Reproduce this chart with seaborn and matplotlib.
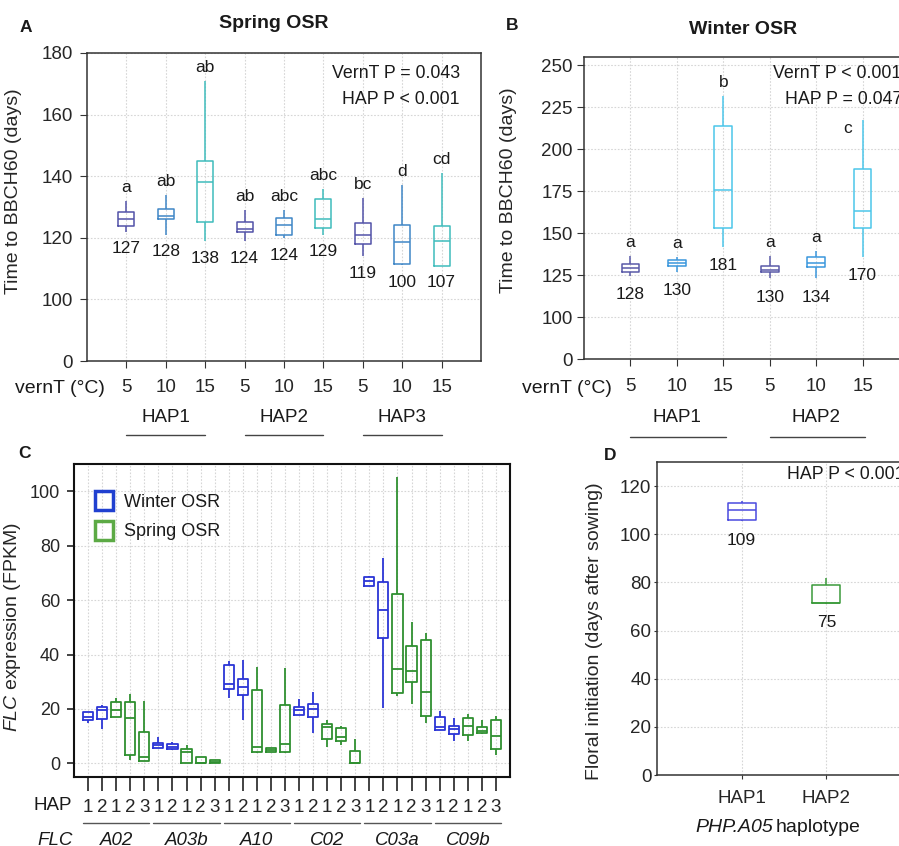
import numpy as np
import pandas as pd
import matplotlib
matplotlib.use("Agg")
import matplotlib.pyplot as plt
import matplotlib.transforms as mtransforms
from matplotlib.lines import Line2D
from matplotlib.patches import Patch
import seaborn as sns

# ---------------- data ----------------
# Panel A: Spring OSR, time to BBCH60 (five-number summaries per box)
a_groups = ["HAP1", "HAP2", "HAP3"]
a_vernT = ["5", "10", "15"]
a_low = [122.0, 121.0, 119.0, 119.0, 120.0, 121.0, 114.0, 111.1, 111.0]
a_q1 = [123.7, 126.0, 125.0, 122.0, 121.0, 123.1, 118.0, 111.5, 111.0]
a_med = [126.0, 127.0, 138.0, 123.0, 124.0, 126.0, 121.0, 118.5, 119.0]
a_q3 = [128.3, 129.5, 144.9, 125.0, 126.5, 132.6, 124.9, 124.3, 123.9]
a_high = [131.9, 134.0, 170.9, 128.9, 128.9, 135.9, 132.9, 137.0, 140.9]
a_letters = ["a", "ab", "ab", "ab", "abc", "abc", "bc", "d", "cd"]
a_n = ["127", "128", "138", "124", "124", "129", "119", "100", "107"]
a_yticks = [80, 100, 120, 140, 160, 180]
a_yticklabels = ["0", "100", "120", "140", "160", "180"]

# Panel B: Winter OSR
b_groups = ["HAP1", "HAP2"]
b_vernT = ["5", "10", "15"]
b_low = [124.6, 127.0, 141.8, 123.0, 123.0, 135.9]
b_q1 = [126.6, 130.4, 153.2, 126.6, 129.6, 152.8]
b_med = [129.1, 132.0, 175.6, 128.0, 132.5, 163.3]
b_q3 = [131.7, 133.75, 213.7, 130.5, 135.7, 188.5]
b_high = [136.3, 135.5, 231.5, 136.3, 139.3, 217.3]
b_letters = ["a", "a", "b", "a", "a", "c"]
b_n = ["128", "130", "181", "130", "134", "170"]
b_yticks = [75, 100, 125, 150, 175, 200, 225, 250]
b_yticklabels = ["0", "100", "125", "150", "175", "200", "225", "250"]

# Panel C: FLC expression (FPKM)
c_genes = ["A02", "A03b", "A10", "C02", "C03a", "C09b"]
c_hap = ["1", "2", "1", "2", "3"]
c_type = ["Winter OSR", "Winter OSR", "Spring OSR", "Spring OSR", "Spring OSR"]
c_low = [14.7, 12.8, 17.1, 1.2, 0.7, 5.6, 5.0, 0.2, 0.0, 0.0,
         24.2, 16.0, 3.7, 4.2, 3.7, 17.7, 11.2, 6.0, 6.8, 0.1,
         65.3, 20.5, 24.9, 21.7, 14.7, 12.3, 8.3, 8.3, 10.7, 3.1]
c_q1 = [16.1, 16.3, 17.1, 3.2, 1.0, 5.6, 5.2, 0.2, 0.1, 0.0,
        27.2, 25.1, 4.3, 4.2, 4.2, 17.7, 17.2, 9.0, 8.1, 0.1,
        65.3, 45.9, 26.0, 30.0, 17.4, 12.3, 10.7, 10.4, 11.0, 5.3]
c_med = [16.9, 19.6, 19.6, 16.5, 2.2, 6.7, 6.2, 4.3, 0.3, 0.4,
         29.3, 28.1, 6.2, 4.9, 7.0, 19.5, 20.1, 13.5, 9.8, 0.25,
         66.9, 56.2, 34.7, 34.1, 26.3, 13.2, 12.5, 13.7, 12.0, 10.1]
c_q3 = [19.0, 20.9, 22.5, 22.6, 11.6, 7.6, 7.0, 5.2, 2.4, 1.1,
        36.0, 31.1, 26.8, 5.6, 21.5, 20.6, 21.7, 14.3, 13.1, 4.4,
        68.4, 66.8, 62.2, 43.0, 45.2, 16.9, 13.6, 16.8, 13.5, 15.9]
c_high = [19.0, 21.5, 23.9, 25.5, 23.0, 9.6, 7.8, 6.8, 2.5, 1.4,
          37.7, 37.9, 35.3, 5.6, 35.2, 23.6, 26.3, 15.9, 13.7, 9.1,
          69.0, 75.6, 105.2, 51.9, 48.0, 19.4, 16.5, 18.0, 15.9, 17.4]
c_yticks = [0, 20, 40, 60, 80, 100]

# Panel D: floral initiation
d_hap = ["HAP1", "HAP2"]
d_low = [105.3, 71.2]
d_q1 = [105.8, 71.5]
d_med = [110.0, 71.6]
d_q3 = [113.1, 79.0]
d_high = [113.7, 81.7]
d_n = ["109", "75"]
d_yticks = [0, 20, 40, 60, 80, 100, 120]

# ---------------- style ----------------
sns.set_style("ticks")
plt.rcParams["font.family"] = ["Liberation Sans", "DejaVu Sans"]
plt.rcParams["mathtext.fontset"] = "custom"
plt.rcParams["mathtext.rm"] = "Liberation Sans"
plt.rcParams["mathtext.it"] = "Liberation Sans:italic"
plt.rcParams["text.color"] = "#1a1a1a"

a_cols = ["#5252a8", "#3f86c6", "#3fbcbc"]
b_cols = ["#5a5aa8", "#3b97dd", "#4cc6ea"]
c_cols = {"Winter OSR": "#2b35d6", "Spring OSR": "#2f9030"}
c_leg_cols = {"Winter OSR": "#2040d0", "Spring OSR": "#5caa45"}
d_cols = ["#4a4adf", "#3a9a3a"]
grid_kw = dict(color="#d6d6d6", linestyle=(0, (1.5, 1.5)), linewidth=0.8)
ptxt = 12.8  # size of the P-value notes

W, H = 899, 846
fig = plt.figure(figsize=(W / 100, H / 100), dpi=100)


def fx(x):
    return x / W


def fy(y):
    return 1 - y / H


def add_axes_px(l, t, r, b):
    return fig.add_axes([fx(l), fy(b), (r - l) / W, (b - t) / H])


def five_frame(keys, lows, q1s, meds, q3s, highs, extra=None):
    rows = []
    for i, k in enumerate(keys):
        for v in (lows[i], q1s[i], meds[i], q3s[i], highs[i]):
            row = {"box": k, "value": v}
            if extra is not None:
                row["kind"] = extra[i]
            rows.append(row)
    return pd.DataFrame(rows)


def style_frame(ax, lw=1.1, color="#333333"):
    for s in ax.spines.values():
        s.set_visible(True)
        s.set_linewidth(lw)
        s.set_color(color)


# ---------------- Panel A ----------------
axA = add_axes_px(87, 53, 481, 361)
a_keys = [f"{g}-{v}" for g in a_groups for v in a_vernT]
dfA = five_frame(a_keys, a_low, a_q1, a_med, a_q3, a_high)
palA = {k: a_cols[i % 3] for i, k in enumerate(a_keys)}
sns.boxplot(data=dfA, x="box", y="value", hue="box", order=a_keys, palette=palA,
            fill=False, width=0.41, whis=(0, 100), showcaps=False, showfliers=False,
            linewidth=1.1, legend=False, ax=axA)
axA.set_xlim(-1, 9)
axA.set_ylim(80, 180)
axA.set_yticks(a_yticks)
axA.set_yticklabels(a_yticklabels)
axA.set_xticks(range(len(a_keys)))
axA.set_xticklabels(a_vernT * len(a_groups))
axA.set_xlabel("")
axA.set_ylabel("Time to BBCH60 (days)", fontsize=14)
axA.yaxis.set_label_coords(-0.165, 0.55)
axA.grid(True, **grid_kw)
axA.set_axisbelow(True)
axA.tick_params(axis="x", length=5, pad=8, labelsize=13.5, color="#333")
axA.tick_params(axis="y", length=5, pad=5, labelsize=13.5, color="#333")
style_frame(axA)
for i in range(len(a_keys)):
    axA.annotate(a_letters[i], (i, a_high[i]), xytext=(0, 6.5), textcoords="offset points",
                 ha="center", va="baseline", fontsize=12.5)
    axA.annotate(a_n[i], (i, a_low[i]), xytext=(0, -7), textcoords="offset points",
                 ha="center", va="top", fontsize=12.5)
fig.text(fx(460), fy(73), "VernT P = 0.043", ha="right", va="center", fontsize=ptxt)
fig.text(fx(460), fy(100), "HAP P < 0.001", ha="right", va="center", fontsize=ptxt)
fig.text(fx(274), fy(23), "Spring OSR", ha="center", va="center", fontsize=14, fontweight="bold")
fig.text(fx(20), fy(28), "A", ha="left", va="center", fontsize=12.5, fontweight="bold")
fig.text(fx(60), fy(388), "vernT (°C)", ha="center", va="center", fontsize=14)
trA = mtransforms.blended_transform_factory(axA.transData, fig.transFigure)
for gi, g in enumerate(a_groups):
    c = gi * 3 + 1
    fig.text(c, fy(417), g, transform=trA, ha="center", va="center", fontsize=13.5)
    fig.add_artist(Line2D([c - 1.0, c + 1.0], [fy(435), fy(435)], transform=trA,
                          color="#444444", lw=1.0))

# ---------------- Panel B ----------------
axB = add_axes_px(584, 57, 909, 359)
b_keys = [f"{g}-{v}" for g in b_groups for v in b_vernT]
dfB = five_frame(b_keys, b_low, b_q1, b_med, b_q3, b_high)
palB = {k: b_cols[i % 3] for i, k in enumerate(b_keys)}
sns.boxplot(data=dfB, x="box", y="value", hue="box", order=b_keys, palette=palB,
            fill=False, width=0.38, whis=(0, 100), showcaps=False, showfliers=False,
            linewidth=1.1, legend=False, ax=axB)
axB.set_xlim(-1, 6)
axB.set_ylim(75, 255)
axB.set_yticks(b_yticks)
axB.set_yticklabels(b_yticklabels)
axB.set_xticks(range(len(b_keys)))
axB.set_xticklabels(b_vernT * len(b_groups))
axB.set_xlabel("")
axB.set_ylabel("Time to BBCH60 (days)", fontsize=14)
axB.yaxis.set_label_coords(-0.206, 0.56)
axB.grid(True, **grid_kw)
axB.set_axisbelow(True)
axB.tick_params(axis="x", length=5, pad=9, labelsize=13.5, color="#333")
axB.tick_params(axis="y", length=5, pad=3, labelsize=13.5, color="#333")
style_frame(axB)
# letter offsets (points): the last letter sits beside its whisker
b_letter_off = [(0, 6.5)] * 5 + [(-11, -9)]
for i in range(len(b_keys)):
    axB.annotate(b_letters[i], (i, b_high[i]), xytext=b_letter_off[i], textcoords="offset points",
                 ha="center", va="baseline", fontsize=12.5)
    axB.annotate(b_n[i], (i, b_low[i]), xytext=(0, -8), textcoords="offset points",
                 ha="center", va="top", fontsize=12.5)
fig.text(fx(773), fy(73), "VernT P < 0.001", ha="left", va="center", fontsize=ptxt)
fig.text(fx(785), fy(99), "HAP P = 0.047", ha="left", va="center", fontsize=ptxt)
fig.text(fx(743), fy(30), "Winter OSR", ha="center", va="center", fontsize=14, fontweight="bold")
fig.text(fx(506), fy(25), "B", ha="left", va="center", fontsize=12.5, fontweight="bold")
fig.text(fx(567), fy(388), "vernT (°C)", ha="center", va="center", fontsize=14)
trB = mtransforms.blended_transform_factory(axB.transData, fig.transFigure)
for gi, g in enumerate(b_groups):
    c = gi * 3 + 1
    fig.text(c, fy(418), g, transform=trB, ha="center", va="center", fontsize=13.5)
    fig.add_artist(Line2D([c - 1.0, c + 1.05], [fy(437), fy(437)], transform=trB,
                          color="#444444", lw=1.0))

# ---------------- Panel C ----------------
axC = add_axes_px(74, 464, 510, 777)
c_keys = [f"{g}-{j}" for g in c_genes for j in range(len(c_hap))]
c_kinds = c_type * len(c_genes)
dfC = five_frame(c_keys, c_low, c_q1, c_med, c_q3, c_high, extra=c_kinds)
sns.boxplot(data=dfC, x="box", y="value", hue="kind", order=c_keys, palette=c_cols,
            fill=False, width=0.72, whis=(0, 100), showcaps=False, showfliers=False,
            linewidth=1.3, legend=False, ax=axC)
axC.set_xlim(-1, 30)
axC.set_ylim(-5, 110)
axC.set_yticks(c_yticks)
axC.set_xticks(range(len(c_keys)))
axC.set_xticklabels(c_hap * len(c_genes))
axC.set_xlabel("")
axC.set_ylabel(r"$\mathit{FLC}$ expression (FPKM)", fontsize=14)
axC.yaxis.set_label_coords(-0.117, 0.48)
axC.grid(True, **grid_kw)
axC.set_axisbelow(True)
axC.tick_params(axis="x", length=10, width=1.2, pad=6, labelsize=13.5, color="#222")
axC.tick_params(axis="y", length=5, width=1.2, pad=5, labelsize=13, color="#222")
style_frame(axC, lw=1.5, color="#111111")
handles = [Patch(facecolor="none", edgecolor=c_leg_cols[k], linewidth=2.5, label=k)
           for k in ["Winter OSR", "Spring OSR"]]
axC.legend(handles=handles, loc="upper left", bbox_to_anchor=(0.02, 0.955), frameon=False,
           fontsize=13, handlelength=1.0, handleheight=1.3, handletextpad=0.6,
           labelspacing=0.55, borderaxespad=0.3)
fig.text(fx(53), fy(805), "HAP", ha="center", va="center", fontsize=13.5)
fig.text(fx(55), fy(832), "FLC", ha="center", va="top", fontsize=13.5, fontstyle="italic")
fig.text(fx(18), fy(453), "C", ha="left", va="center", fontsize=12.5, fontweight="bold")
trC = mtransforms.blended_transform_factory(axC.transData, fig.transFigure)
for gi, g in enumerate(c_genes):
    c = gi * 5 + 2
    fig.add_artist(Line2D([c - 2.35, c + 2.35], [fy(823), fy(823)], transform=trC,
                          color="#555555", lw=1.0))
    fig.text(c, fy(832), g, transform=trC, ha="center", va="top", fontsize=13.5,
             fontstyle="italic")

# ---------------- Panel D ----------------
axD = add_axes_px(657, 462, 911, 775)
dfD = five_frame(d_hap, d_low, d_q1, d_med, d_q3, d_high)
palD = {k: d_cols[i] for i, k in enumerate(d_hap)}
sns.boxplot(data=dfD, x="box", y="value", hue="box", order=d_hap, palette=palD,
            fill=False, width=0.33, whis=(0, 100), showcaps=False, showfliers=False,
            linewidth=1.1, legend=False, ax=axD)
axD.set_xlim(-1, 2)
axD.set_ylim(0, 130)
axD.set_yticks(d_yticks)
axD.set_xticks(range(len(d_hap)))
axD.set_xticklabels(d_hap)
axD.set_xlabel("")
axD.set_ylabel("Floral initiation (days after sowing)", fontsize=14)
axD.yaxis.set_label_coords(-0.213, 0.46)
axD.grid(True, **grid_kw)
axD.set_axisbelow(True)
axD.tick_params(axis="x", length=3, pad=8, labelsize=13.5, color="#333")
axD.tick_params(axis="y", length=2, pad=2, labelsize=13.5, color="#333")
style_frame(axD)
for i in range(len(d_hap)):
    axD.annotate(d_n[i], (i, d_low[i]), xytext=(0, -8), textcoords="offset points",
                 ha="center", va="top", fontsize=12.5)
fig.text(fx(773), fy(827), "PHP.A05", ha="right", va="center", fontsize=14, fontstyle="italic")
fig.text(fx(776), fy(827), "haplotype", ha="left", va="center", fontsize=14)
fig.text(fx(787), fy(474), "HAP P < 0.001", ha="left", va="center", fontsize=ptxt)
fig.text(fx(604), fy(455), "D", ha="left", va="center", fontsize=12.5, fontweight="bold")

fig.savefig("out.png", dpi=100)
